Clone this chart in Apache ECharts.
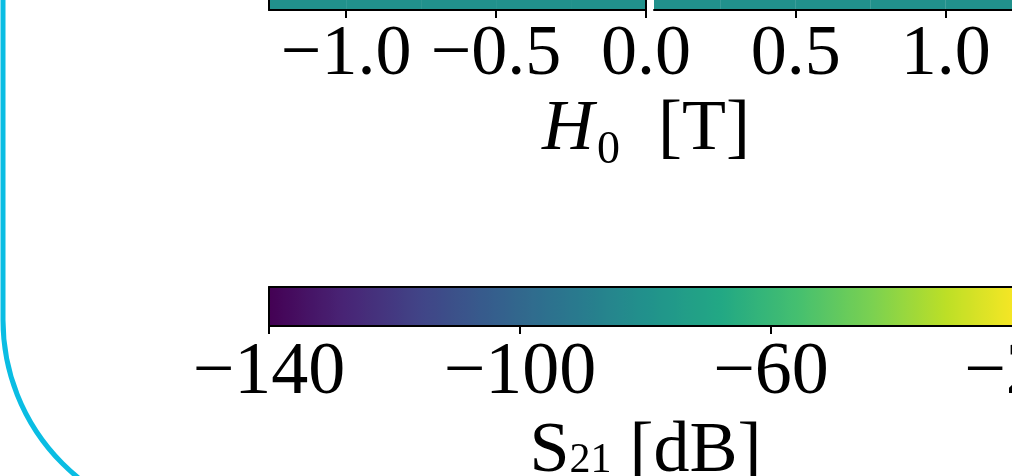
<!DOCTYPE html>
<html><head><meta charset="utf-8">
<script src="https://cdn.jsdelivr.net/npm/echarts@6/dist/echarts.min.js"></script>
<style>html,body{margin:0;padding:0;background:#fff}#c{width:1012px;height:476px}</style>
</head><body><div id="c"></div><script>
// ---- data ----
const fieldTicksLeft = [-1.0, -0.5, 0.0];
const fieldTicksRight = [0.5, 1.0];
const fieldEdgesLeft = [-1.257, -1.0, -0.75, -0.5, -0.25, 0.0];
const s21Left = [-80, -80, -80, -80, -80];
const fieldEdgesRight = [0.027, 0.25, 0.5, 0.75, 1.0, 1.284];
const s21Right = [-80, -80, -80, -80, -80];
const freqEdges = [0, 1];
const colorbarTicks = [-140, -100, -60, -20];
const s21Range = [-140, -20];
const viridis = ['#440154','#482475','#414487','#355f8d','#2a788e','#21918c','#22a884','#44bf70','#7ad151','#bddf26','#fde725'];

const FONT = 'Liberation Serif';
const minus = v => (v < 0 ? '\u2212' : '') + Math.abs(v);
const fmt1 = v => (v < 0 ? '\u2212' : '') + Math.abs(v).toFixed(1);

function cells(edges, vals) {
  const out = [];
  for (let i = 0; i < vals.length; i++) out.push([edges[i], edges[i + 1], freqEdges[0], freqEdges[1], vals[i]]);
  return out;
}
function cellRender(params, api) {
  const p0 = api.coord([api.value(0), api.value(3)]);
  const p1 = api.coord([api.value(1), api.value(2)]);
  const r = echarts.graphic.clipRectByRect(
    { x: p0[0], y: p0[1], width: p1[0] - p0[0], height: p1[1] - p0[1] },
    { x: params.coordSys.x, y: params.coordSys.y, width: params.coordSys.width, height: params.coordSys.height });
  if (!r) return;
  return { type: 'rect', shape: r, style: { fill: api.visual('color') } };
}

const black = { lineStyle: { color: '#000', width: 2 } };
function fieldAxis(gi, min, max, ticks) {
  return {
    type: 'value', gridIndex: gi, min: min, max: max, z: 5,
    axisLine: Object.assign({ show: true, onZero: false }, black),
    axisTick: { show: true, length: 8, lineStyle: { color: '#000', width: 2 }, customValues: ticks },
    axisLabel: { show: true, customValues: ticks, formatter: fmt1, color: '#000', fontFamily: FONT, fontSize: 72, margin: 9 },
    splitLine: { show: false }
  };
}
function sideAxis(gi, pos, show) {
  return { type: 'value', gridIndex: gi, min: freqEdges[0], max: freqEdges[1], position: pos, z: 5,
    axisLine: Object.assign({ show: show, onZero: false }, black),
    axisTick: { show: false }, axisLabel: { show: false }, splitLine: { show: false } };
}
const gridBase = { containLabel: false, outerBoundsMode: 'none' };

const option = {
  animation: false,
  backgroundColor: '#fff',
  grid: [
    Object.assign({ left: 269, width: 377, top: -100, height: 110 }, gridBase),
    Object.assign({ left: 654, width: 377, top: -100, height: 110 }, gridBase),
    Object.assign({ left: 269, width: 753, top: 287, height: 39 }, gridBase)
  ],
  xAxis: [
    fieldAxis(0, fieldEdgesLeft[0], fieldEdgesLeft[fieldEdgesLeft.length - 1], fieldTicksLeft),
    fieldAxis(1, fieldEdgesRight[0], fieldEdgesRight[fieldEdgesRight.length - 1], fieldTicksRight),
    {
      type: 'value', gridIndex: 2, min: s21Range[0], max: s21Range[1], interval: 40, z: 5,
      axisLine: Object.assign({ show: true, onZero: false }, black),
      axisTick: { show: true, length: 8, lineStyle: { color: '#000', width: 2 }, customValues: colorbarTicks },
      axisLabel: { show: true, customValues: colorbarTicks, formatter: minus, color: '#000', fontFamily: FONT, fontSize: 74, margin: 11 },
      splitLine: { show: false },
      name: '{a|S}{b|21}{a| [dB]}', nameLocation: 'middle', nameGap: 90,
      nameTextStyle: { color: '#000', fontFamily: FONT, fontSize: 72,
        rich: {
          a: { fontFamily: FONT, fontSize: 72, color: '#000', verticalAlign: 'bottom' },
          b: { fontFamily: FONT, fontSize: 42, color: '#000', verticalAlign: 'bottom', padding: [0, 0, 6, 0] }
        } }
    },
    {
      type: 'value', gridIndex: 2, min: s21Range[0], max: s21Range[1], position: 'top', z: 5,
      axisLine: Object.assign({ show: true, onZero: false }, black),
      axisTick: { show: false }, axisLabel: { show: false }, splitLine: { show: false }
    }
  ],
  yAxis: [
    sideAxis(0, 'left', true), sideAxis(0, 'right', true),
    sideAxis(1, 'left', false),
    sideAxis(2, 'left', true), sideAxis(2, 'right', true)
  ],
  visualMap: {
    type: 'continuous', min: s21Range[0], max: s21Range[1], dimension: 4, seriesIndex: [0, 1],
    orient: 'horizontal', left: 269, top: 287, itemWidth: 39, itemHeight: 753, padding: 0,
    calculable: false, hoverLink: false, text: null, showLabel: false, z: 1,
    inRange: { color: viridis }
  },
  series: [
    { type: 'custom', xAxisIndex: 0, yAxisIndex: 0, renderItem: cellRender, data: cells(fieldEdgesLeft, s21Left), z: 2 },
    { type: 'custom', xAxisIndex: 1, yAxisIndex: 2, renderItem: cellRender, data: cells(fieldEdgesRight, s21Right), z: 2 }
  ],
  graphic: [
    { type: 'rect', z: 100, silent: true,
      shape: { x: 3, y: -600, width: 2000, height: 1123, r: 203 },
      style: { fill: 'none', stroke: '#0abde3', lineWidth: 5 } },
    { type: 'text', x: 646, y: 86, z: 100,
      style: { text: '{h|H}{s|0}{t|[T]}', align: 'center', verticalAlign: 'top', fill: '#000',
        rich: {
          h: { fontFamily: FONT, fontStyle: 'italic', fontSize: 72 },
          s: { fontFamily: FONT, fontSize: 46, padding: [42, 0, 0, 3] },
          t: { fontFamily: FONT, fontSize: 72, padding: [0, 0, 0, 38] }
        } } }
  ]
};
const chart = echarts.init(document.getElementById('c'), null, { renderer: 'canvas' });
chart.setOption(option);
</script></body></html>
